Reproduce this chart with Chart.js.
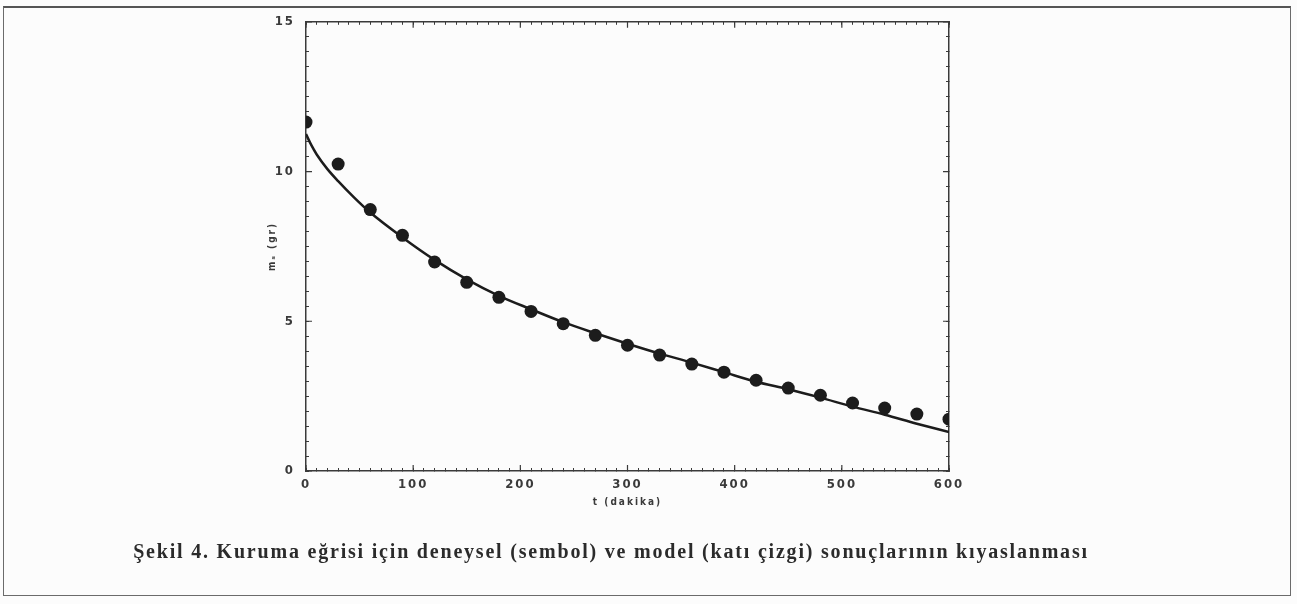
<!DOCTYPE html>
<html>
<head>
<meta charset="utf-8">
<script src="https://cdn.jsdelivr.net/npm/chart.js@4.4.0/dist/chart.umd.min.js"></script>
<style>
  html, body { margin: 0; padding: 0; background: #fcfcfc; }
  #wrap { position: relative; width: 1297px; height: 604px; overflow: hidden; }
  #frame { position: absolute; left: 3px; top: 6px; width: 1288px; height: 590px; box-sizing: border-box;
           border: 1.5px solid #6b6b6b; border-top: 2px solid #555; }
  canvas { position: absolute; left: 0; top: 0; }
  #caption { position: absolute; left: 0; top: 540px; width: 1222px; text-align: center;
             font: bold 20px "Liberation Serif", serif; color: #2b2b2b; letter-spacing: 1.8px; }
</style>
</head>
<body>
<div id="wrap">
  <div id="frame"></div>
  <canvas id="myChart" width="1297" height="604"></canvas>
  <div id="caption">Şekil 4. Kuruma eğrisi için deneysel (sembol) ve model (katı çizgi) sonuçlarının kıyaslanması</div>
</div>
<script>
// deneysel noktalar (t, dakika -> m_s, gr)
const timeMin = [0, 30, 60, 90, 120, 150, 180, 210, 240, 270, 300, 330, 360, 390, 420, 450, 480, 510, 540, 570, 600];
const measured = [11.65, 10.25, 8.73, 7.87, 6.98, 6.3, 5.8, 5.33, 4.92, 4.53, 4.2, 3.87, 3.57, 3.3, 3.03, 2.77, 2.53, 2.27, 2.1, 1.9, 1.73];

// model (kati cizgi)
const modelTime = [0, 5, 10, 20, 30, 45, 60, 90, 120, 150, 180, 210, 240, 270, 300, 330, 360, 390, 420, 450, 480, 510, 540, 570, 600];
const modelValue = [11.25, 10.88, 10.57, 10.08, 9.68, 9.13, 8.63, 7.8, 7.05, 6.4, 5.85, 5.4, 4.97, 4.6, 4.25, 3.92, 3.62, 3.3, 2.98, 2.73, 2.45, 2.15, 1.88, 1.58, 1.3];

const xTickLabels = [0, 100, 200, 300, 400, 500, 600];
const yTickLabels = [0, 5, 10, 15];

const ink = "#1c1c1c";
const axisColor = "#3a3a3a";
const tickFont = { family: "DejaVu Sans Condensed", weight: "bold", size: 13 };
const titleFont = { family: "DejaVu Sans Condensed", weight: "bold", size: 10 };

// harf araligi (taranmis grafikteki gibi seyrek yazi)
const spacing = {
  id: "spacing",
  beforeUpdate(chart) { chart.ctx.letterSpacing = "2px"; },
  beforeDraw(chart) { chart.ctx.letterSpacing = "2px"; }
};

// ana tikler biraz daha uzun
const majorTicks = {
  id: "majorTicks",
  afterDraw(chart) {
    const { ctx, chartArea: a, scales } = chart;
    ctx.save();
    ctx.strokeStyle = axisColor;
    ctx.lineWidth = 1.2;
    ctx.beginPath();
    xTickLabels.forEach((v) => {
      const px = scales.x.getPixelForValue(v);
      ctx.moveTo(px, a.bottom); ctx.lineTo(px, a.bottom - 6);
      ctx.moveTo(px, a.top); ctx.lineTo(px, a.top + 6);
    });
    yTickLabels.forEach((v) => {
      const py = scales.y.getPixelForValue(v);
      ctx.moveTo(a.left, py); ctx.lineTo(a.left + 6, py);
      ctx.moveTo(a.right, py); ctx.lineTo(a.right - 6, py);
    });
    ctx.stroke();
    ctx.restore();
  }
};

const minorGrid = { drawOnChartArea: false, tickLength: -3, color: axisColor, lineWidth: 1 };
const axisBorder = { color: axisColor, width: 1.5 };

new Chart(document.getElementById("myChart"), {
  type: "scatter",
  data: {
    datasets: [
      {
        label: "deneysel",
        data: timeMin.map((t, i) => ({ x: t, y: measured[i] })),
        pointRadius: 6.5,
        pointBackgroundColor: ink,
        pointBorderWidth: 0,
        order: 1
      },
      {
        label: "model",
        data: modelTime.map((t, i) => ({ x: t, y: modelValue[i] })),
        showLine: true,
        pointRadius: 0,
        borderColor: ink,
        borderWidth: 2.5,
        cubicInterpolationMode: "monotone",
        order: 2
      }
    ]
  },
  plugins: [spacing, majorTicks],
  options: {
    responsive: false,
    animation: false,
    layout: { padding: { left: 250, right: 300, top: 21, bottom: 73 } },
    plugins: { legend: { display: false }, tooltip: { enabled: false } },
    scales: {
      x: {
        type: "linear", position: "bottom", min: 0, max: 600,
        ticks: {
          stepSize: 10, autoSkip: false, maxRotation: 0, padding: 9,
          font: tickFont, color: axisColor,
          callback: (v) => (xTickLabels.includes(v) ? v : "")
        },
        grid: minorGrid, border: axisBorder,
        title: { display: true, text: "t (dakika)", font: titleFont, color: axisColor, padding: { top: 0, bottom: 23 } },
        afterFit: (s) => { s.height = 60; }
      },
      x2: {
        type: "linear", position: "top", min: 0, max: 600,
        ticks: { stepSize: 10, autoSkip: false, display: false },
        grid: minorGrid, border: axisBorder,
        afterFit: (s) => { s.height = 0; }
      },
      y: {
        type: "linear", position: "left", min: 0, max: 15,
        ticks: {
          stepSize: 0.5, autoSkip: false, padding: 14,
          font: tickFont, color: axisColor,
          callback: (v) => (yTickLabels.includes(v) ? v : "")
        },
        grid: minorGrid, border: axisBorder,
        title: { display: true, text: "mₛ (gr)", font: titleFont, color: axisColor, padding: { top: 16, bottom: 0 } },
        afterFit: (s) => { s.width = 56; }
      },
      y2: {
        type: "linear", position: "right", min: 0, max: 15,
        ticks: { stepSize: 0.5, autoSkip: false, display: false },
        grid: minorGrid, border: axisBorder,
        afterFit: (s) => { s.width = 48; }
      }
    }
  }
});
</script>
</body>
</html>
